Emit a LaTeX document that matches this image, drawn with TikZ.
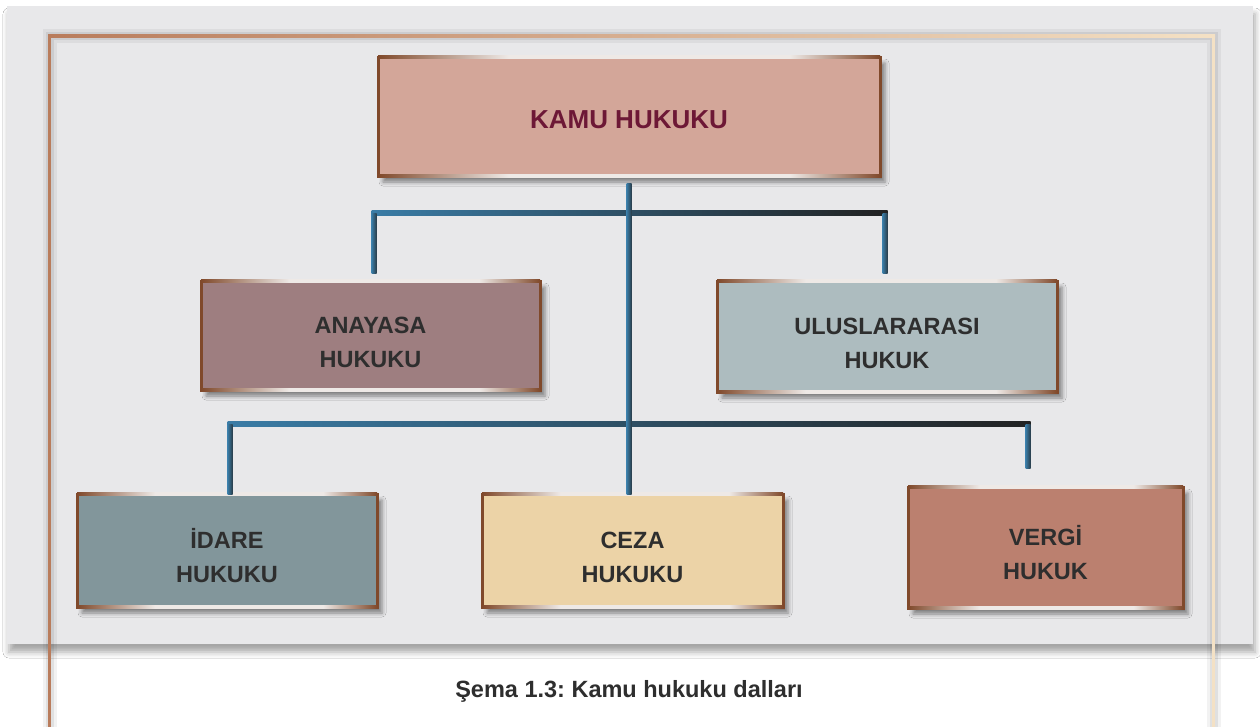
\documentclass[tikz,border=0pt]{standalone}
\usepackage{fontspec}
\setmainfont{Liberation Sans}
\usetikzlibrary{shadows.blur}
\frenchspacing

\definecolor{panelgray}{HTML}{E8E8EA}
\definecolor{framebrown}{HTML}{B97C5C}
\definecolor{framecream}{HTML}{F4E1C5}
\definecolor{boxrim}{HTML}{80492B}
\definecolor{rimlight}{HTML}{EEE9E6}
\definecolor{lineblue}{HTML}{3A7CA6}
\definecolor{linedark}{HTML}{222222}
\definecolor{labeldark}{HTML}{2E2E2E}
\definecolor{kamutext}{HTML}{6D1836}
\definecolor{kamufill}{HTML}{D3A699}
\definecolor{anayasafill}{HTML}{9E7E80}
\definecolor{ulusfill}{HTML}{ADBCBF}
\definecolor{idarefill}{HTML}{82969B}
\definecolor{cezafill}{HTML}{ECD3A7}
\definecolor{vergifill}{HTML}{BB806F}

\pgfdeclarehorizontalshading{rimfade}{100bp}{color(0bp)=(boxrim); color(25bp)=(boxrim);
  color(38bp)=(rimlight); color(66bp)=(rimlight); color(75bp)=(boxrim); color(100bp)=(boxrim)}

\newcommand\railpost[2]{\shade[left color=lineblue, right color=linedark!70!lineblue]
  ([xshift=-2.5pt]#1) rectangle ([xshift=2.5pt]#2);}
\newcommand\boxlines[2]{\rule{0pt}{31pt}#1\\#2}

\tikzset{
  lawbox/.style={rectangle, draw=boxrim, line width=3pt, inner sep=0pt, outer sep=0pt,
    align=center, font=\bfseries\fontsize{23.5}{34}\selectfont, text=labeldark,
    blur shadow={shadow xshift=5pt, shadow yshift=-6pt, shadow blur radius=4pt, shadow opacity=45}},
}

\begin{document}
\begin{tikzpicture}[x=1pt,y=-1pt]

\useasboundingbox (0,0) rectangle (1260,726);
\fill[white] (0,0) rectangle (1260,726);

% grey panel
\fill[panelgray, blur shadow={shadow xshift=2pt, shadow yshift=-8pt, shadow blur radius=6pt, shadow opacity=35}]
  (7,6) rectangle (1253,644);

% frame
\draw[black, opacity=0.05, line width=14pt] (49.5,760) |- (1213.5,35.5) -- (1213.5,760);
\draw[black, opacity=0.07, line width=8pt] (49.5,760) |- (1213.5,35.5) -- (1213.5,760);
\fill[framebrown] (48,34) rectangle (51,760);
\shade[left color=framebrown, right color=framecream] (48,34) rectangle (1215,37);
\fill[framecream] (1212,34) rectangle (1215,760);

% boxes
\node[lawbox, fill=kamufill, minimum width=502pt, minimum height=119pt,
  font=\bfseries\fontsize{26}{30}\selectfont, text=kamutext] (kamu) at (629,116.5) {\rule{0pt}{25pt}KAMU HUKUKU};
\node[lawbox, fill=anayasafill, minimum width=339pt, minimum height=109pt] (anayasa) at (370.5,335.5) {\boxlines{ANAYASA}{HUKUKU}};
\node[lawbox, fill=ulusfill, minimum width=340pt, minimum height=111pt] (ulus) at (887,336.5) {\boxlines{ULUSLARARASI}{HUKUK}};
\node[lawbox, fill=idarefill, minimum width=300pt, minimum height=113pt] (idare) at (227,550.5) {\boxlines{İDARE}{HUKUKU}};
\node[lawbox, fill=cezafill, minimum width=301pt, minimum height=113pt] (ceza) at (632.5,550.5) {\boxlines{CEZA}{HUKUKU}};
\node[lawbox, fill=vergifill, minimum width=275pt, minimum height=121pt] (vergi) at (1045.5,547.5) {\boxlines{VERGİ}{HUKUK}};

\foreach \b in {kamu,anayasa,ulus,idare,ceza,vergi}{
  \shade[shading=rimfade] ([yshift=1.5pt]\b.north west) rectangle ([yshift=-1.5pt]\b.north east);
  \shade[shading=rimfade] ([yshift=1.5pt]\b.south west) rectangle ([yshift=-1.5pt]\b.south east);
}

% connectors
\coordinate (upL) at (374,213);
\coordinate (upR) at (885,213);
\coordinate (upLfoot) at ([yshift=8pt]upL |- anayasa.north);
\coordinate (upRfoot) at ([yshift=8pt]upR |- ulus.north);
\coordinate (lowL) at (230,424);
\coordinate (lowR) at (1028,424);
\coordinate (lowLfoot) at (lowL |- idare.north);
\coordinate (lowRfoot) at ([yshift=19pt]lowR |- vergi.north);
\coordinate (trunktop) at ([yshift=-7pt]kamu.south);
\coordinate (trunkfoot) at (kamu.south |- ceza.north);

\shade[left color=lineblue, right color=linedark]
  ([xshift=-2.5pt,yshift=2.5pt]upL) rectangle ([xshift=2.5pt,yshift=-2.5pt]upR);
\shade[left color=lineblue, right color=linedark]
  ([xshift=-2.5pt,yshift=2.5pt]lowL) rectangle ([xshift=2.5pt,yshift=-2.5pt]lowR);

\railpost{upL}{upLfoot}
\railpost{upR}{upRfoot}
\railpost{lowL}{lowLfoot}
\railpost{lowR}{lowRfoot}
\railpost{trunktop}{trunkfoot}

% caption
\node[font=\bfseries\fontsize{23.5}{28}\selectfont, text=labeldark, anchor=base] (caption)
  at (629,697) {Şema 1.3: Kamu hukuku dalları};

\end{tikzpicture}
\end{document}
